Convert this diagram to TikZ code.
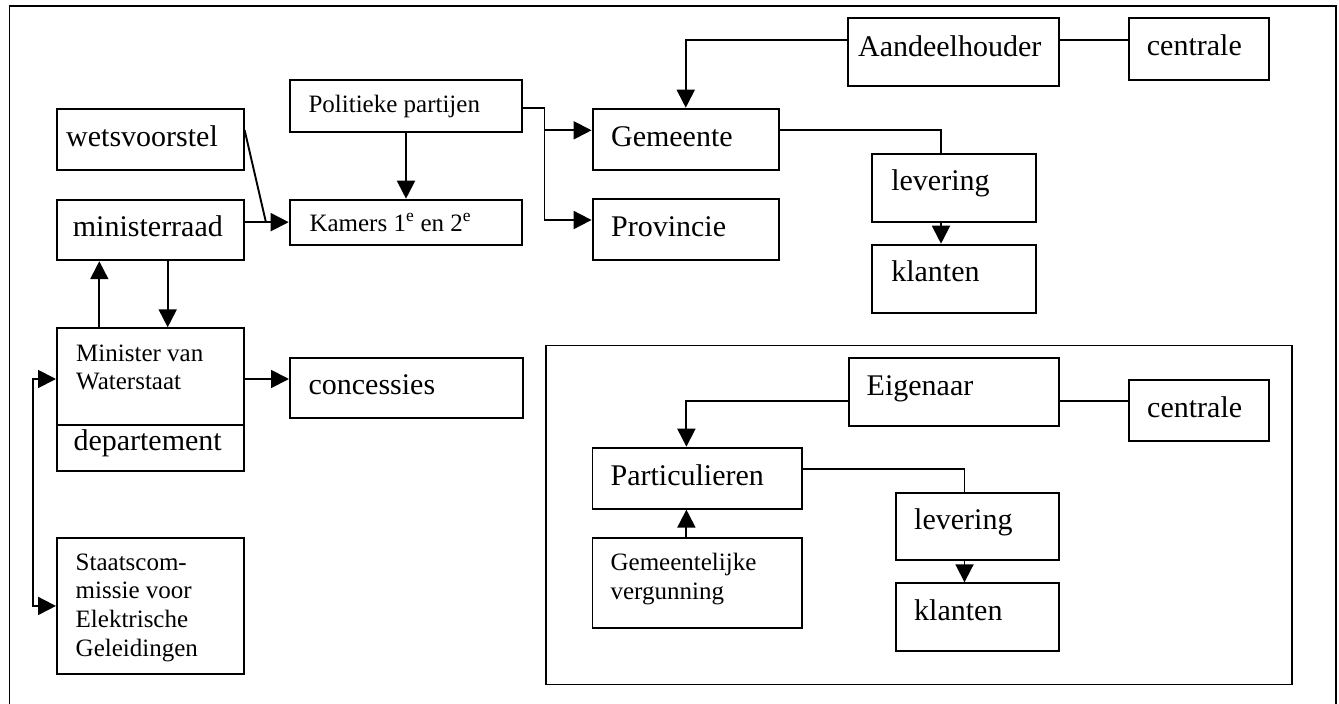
\documentclass[tikz,border=0pt]{standalone}
\usepackage{fontspec}
\setmainfont{Liberation Serif}
\usetikzlibrary{arrows.meta,calc}
\newcommand{\bigf}{\fontsize{30}{34}\selectfont}
\newcommand{\smallf}{\fontsize{25}{28.7}\selectfont}
\begin{document}
\begin{tikzpicture}[x=1pt,y=-1pt,
  lw/.style={line width=1.9pt},
  bx/.style={draw,lw,inner sep=0pt,anchor=north west},
  big/.style={anchor=base west,inner sep=0pt,font=\bigf},
  sml/.style={anchor=base west,inner sep=0pt,font=\smallf,align=left},
  arr/.style={lw,-{Triangle[length=18pt,width=18pt]}},
  dbl/.style={lw,{Triangle[length=18pt,width=18pt]}-{Triangle[length=18pt,width=18pt]}},
  ln/.style={lw}]
\useasboundingbox (0,0) rectangle (1339,704);
\begin{scope}
\clip (0,0) rectangle (1339,704);
\draw[lw] (9.5,720) -- (9.5,6) -- (1336,6) -- (1336,720);
\end{scope}
% boxes
\node[bx,minimum width=232.7pt,minimum height=52pt] (pol) at (288.7,78.7) {};
\node[bx,minimum width=187pt,minimum height=61pt] (wets) at (55.7,107.7) {};
\node[bx,minimum width=187pt,minimum height=60.6pt] (mini) at (55.7,198.7) {};
\node[bx,minimum width=232.7pt,minimum height=45pt] (kam) at (288.7,198.7) {};
\node[bx,minimum width=187pt,minimum height=96.7pt] (minw) at (56,327.3) {};
\node[bx,minimum width=187pt,minimum height=46pt] (dep) at (56,424) {};
\node[bx,minimum width=233.3pt,minimum height=60.6pt] (conc) at (289,356.7) {};
\node[bx,minimum width=187pt,minimum height=135.4pt] (staats) at (56,537.3) {};
\node[bx,minimum width=211pt,minimum height=68pt] (aand) at (847.2,17.3) {};
\node[bx,minimum width=139.8pt,minimum height=61.4pt] (cena) at (1127.9,17.3) {};
\node[bx,minimum width=186.4pt,minimum height=61pt] (gem) at (591.6,107.7) {};
\node[bx,minimum width=186.4pt,minimum height=61pt] (prov) at (591.6,198.3) {};
\node[bx,minimum width=164pt,minimum height=68pt] (leva) at (870.7,153) {};
\node[bx,minimum width=164pt,minimum height=68pt] (kla) at (870.7,243.7) {};
\node[bx,minimum width=746pt,minimum height=339pt] (sub) at (545,344.5) {};
\node[bx,minimum width=210.7pt,minimum height=68pt] (eig) at (847.7,356.7) {};
\node[bx,minimum width=139.8pt,minimum height=61pt] (cenb) at (1127.8,379) {};
\node[bx,minimum width=209.7pt,minimum height=61pt] (part) at (591.5,446.7) {};
\node[bx,minimum width=163.8pt,minimum height=67pt] (levb) at (894.6,492.3) {};
\node[bx,minimum width=163.8pt,minimum height=67.7pt] (klb) at (894.6,582.3) {};
\node[bx,minimum width=209.7pt,minimum height=90.3pt] (gvg) at (591.5,537) {};
% texts
\node[sml] (tpol) at (308.3,112.7) {Politieke partijen};
\node[big] (twets) at (66,146) {wetsvoorstel};
\node[big] (tmini) at (72.7,236.7) {ministerraad};
\node[sml] (tkam) at (309.3,231) {Kamers 1\textsuperscript{e} en 2\textsuperscript{e}};
\node[sml] (tminw1) at (76,361) {Minister van};
\node[sml] (tminw2) at (76,389) {Waterstaat};
\node[big] (tdep) at (73.3,450.7) {departement};
\node[big] (tconc) at (308.4,394.3) {concessies};
\node[sml] (ts1) at (75.5,570) {Staatscom-};
\node[sml] (ts2) at (75.5,598.5) {missie voor};
\node[sml] (ts3) at (75.5,627.2) {Elektrische};
\node[sml] (ts4) at (75.5,656) {Geleidingen};
\node[big] (taand) at (857.9,56) {Aandeelhouder};
\node[big] (tcena) at (1146.7,55) {centrale};
\node[big] (tgem) at (610.9,146.7) {Gemeente};
\node[big] (tprov) at (610.9,236.7) {Provincie};
\node[big] (tleva) at (891.1,190) {levering};
\node[big] (tkla) at (891.1,281.7) {klanten};
\node[big] (teig) at (866.5,395) {Eigenaar};
\node[big] (tcenb) at (1147,417.3) {centrale};
\node[big] (tpart) at (610.4,485) {Particulieren};
\node[big] (tlevb) at (914,529) {levering};
\node[big] (tklb) at (914,620.7) {klanten};
\node[sml] (tg1) at (610.4,570) {Gemeentelijke};
\node[sml] (tg2) at (610.4,599.3) {vergunning};
% connectors
\draw[arr] (pol.south) -- (kam.north);
\coordinate (j1) at (265.7,221.2);
\draw[ln] ($(wets.north east)+(0,22.3)$) -- (j1);
\draw[arr] (mini.east |- kam.west) -- (kam.west);
\draw[arr] ($(minw.north west)+(43.3,0)$) -- ($(mini.south west)+(43.6,0)$);
\draw[arr] ($(mini.south west)+(112,0)$) -- ($(minw.north west)+(111.7,0)$);
\coordinate (m1) at ($(minw.north west)+(0,51.7)$);
\coordinate (c1) at (32.7,379);
\draw[arr] (minw.east |- m1) -- (conc.west |- m1);
\draw[dbl] (m1) -- (c1) |- (staats.west);
\coordinate (b1) at (544.5,107.7);
\coordinate (b2) at (544.5,130.3);
\coordinate (b3) at (544.5,220);
\draw[arr] (pol.east |- b1) -- (b1) -- (b3) -- (prov.west |- b3);
\draw[arr] (b2) -- (gem.west |- b2);
\coordinate (a1) at (847.2,39.7);
\draw[arr] (aand.west |- a1) -| (gem.north);
\draw[ln] (aand.east |- a1) -- (cena.west |- a1);
\coordinate (l1) at (941,153);
\draw[ln] (gem.east |- b2) -| (l1);
\draw[arr] (leva.south -| l1) -- (kla.north -| l1);
\coordinate (e1) at (847.7,401);
\coordinate (p1) at (686.4,446.7);
\draw[arr] (eig.west |- e1) -| (p1);
\draw[ln] (eig.east |- e1) -- (cenb.west |- e1);
\coordinate (p2) at (801.2,469);
\coordinate (l2) at (964.5,492.3);
\draw[ln] (part.east |- p2) -| (l2);
\draw[arr] (levb.south -| l2) -- (klb.north -| l2);
\draw[arr] (gvg.north -| p1) -- (part.south -| p1);
\end{tikzpicture}
\end{document}
